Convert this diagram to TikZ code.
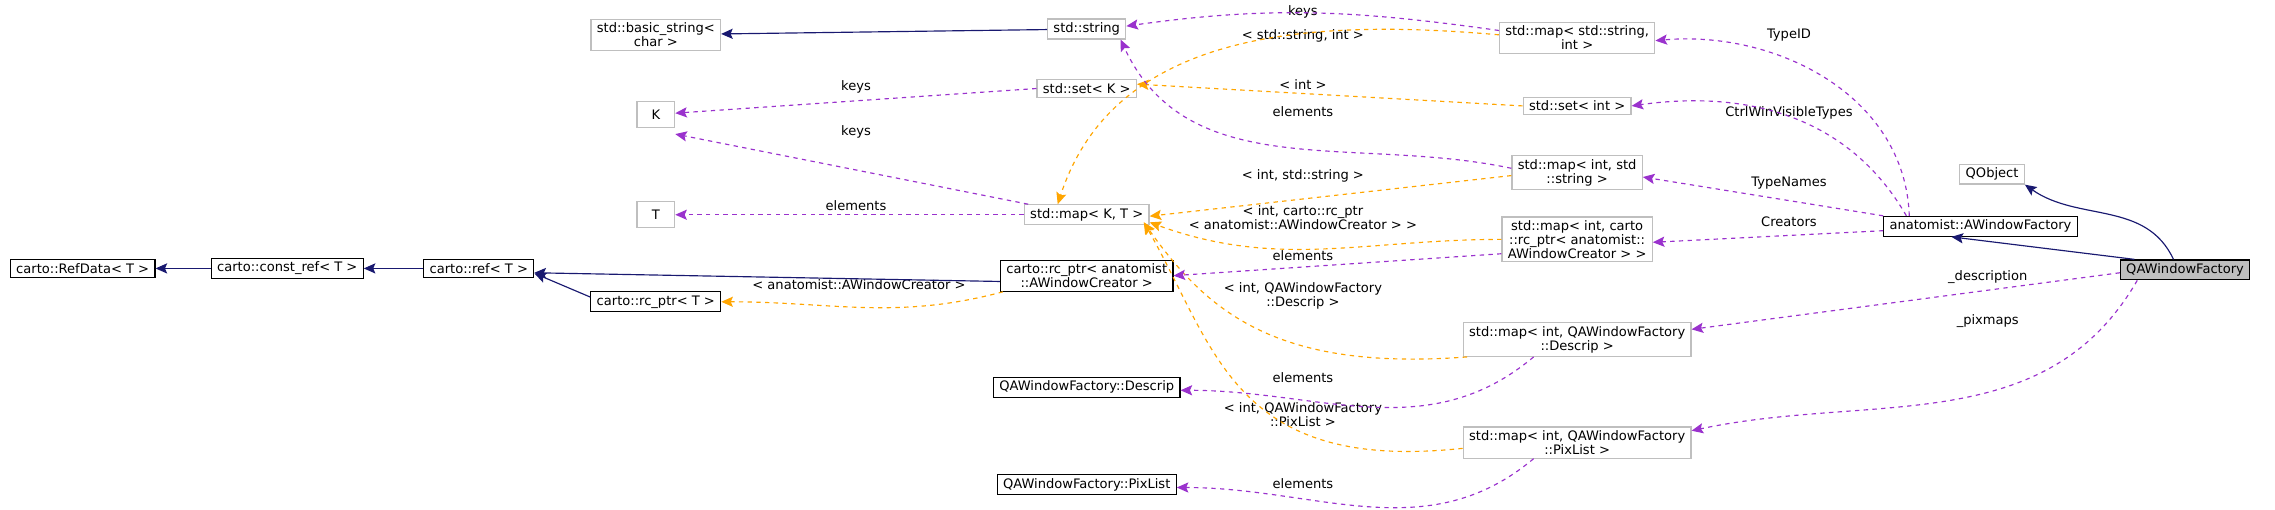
\documentclass[tikz,border=0pt]{standalone}
\usepackage{fontspec}
\setmainfont{DejaVu Sans}
\usetikzlibrary{arrows.meta}
\definecolor{inhblue}{RGB}{25,25,112}
\definecolor{usepurple}{RGB}{154,50,205}
\definecolor{tmplorange}{RGB}{255,165,0}
\definecolor{boxgray}{RGB}{191,191,191}

\tikzset{
  box/.style={draw=black, thick, fill=white, align=center, inner xsep=4pt, inner ysep=2.5pt, font=\fontsize{9}{9.5}\selectfont},
  gbox/.style={box, draw=boxgray},
  inh/.style={inhblue, thick, -{Stealth[length=8pt,width=7pt,inset=1.5pt]}},
  use/.style={usepurple, thick, dashed, -{Stealth[length=8pt,width=7pt,inset=1.5pt]}},
  tmpl/.style={tmplorange, thick, dashed, -{Stealth[length=8pt,width=7pt,inset=1.5pt]}},
  lbl/.style={align=center, font=\fontsize{9}{9.5}\selectfont, inner sep=0pt}
}

\begin{document}
\begin{tikzpicture}[x=1pt,y=-1pt]
  \useasboundingbox (0,0) rectangle (1568,351);

  % Left column: reference classes
  \node[box] (refdata) at (57,185) {carto::RefData< T >};
  \node[box] (constref) at (198,185) {carto::const\_ref< T >};
  \node[box] (ref) at (330,185) {carto::ref< T >};
  \node[box] (rcptr) at (452,208) {carto::rc\_ptr< T >};
  \node[gbox] (basicstr) at (452,24) {std::basic\_string<\\char >};
  \node[gbox, minimum width=26pt, minimum height=18pt] (K) at (452,79) {K};
  \node[gbox, minimum width=26pt, minimum height=18pt] (T) at (452,148) {T};

  % Second column
  \node[gbox] (string) at (749,20) {std::string};
  \node[gbox] (setK) at (749,61) {std::set< K >};
  \node[gbox] (mapKT) at (749,148) {std::map< K, T >};
  \node[box] (rcanat) at (749,190) {carto::rc\_ptr< anatomist\\::AWindowCreator >};
  \node[box] (descrip) at (749,267) {QAWindowFactory::Descrip};
  \node[box] (pixlist) at (749,334) {QAWindowFactory::PixList};

  % Third column: containers
  \node[gbox] (mapstrint) at (1087,26) {std::map< std::string,\\int >};
  \node[gbox] (setint) at (1087,73) {std::set< int >};
  \node[gbox] (mapintstr) at (1087,119) {std::map< int, std\\::string >};
  \node[gbox] (mapintrc) at (1087,165) {std::map< int, carto\\::rc\_ptr< anatomist::\\AWindowCreator > >};
  \node[gbox] (mapdescrip) at (1087,234) {std::map< int, QAWindowFactory\\::Descrip >};
  \node[gbox] (mappix) at (1087,305) {std::map< int, QAWindowFactory\\::PixList >};

  % Right column
  \node[gbox] (qobject) at (1373,120) {QObject};
  \node[box] (awfactory) at (1365,156) {anatomist::AWindowFactory};
  \node[box, fill=boxgray] (qawf) at (1506,186) {QAWindowFactory};

  % Connector labels
  \node[lbl] (lkeys1) at (898,8) {keys};
  \node[lbl] (lstrint) at (898,25) {< std::string, int >};
  \node[lbl] (lint) at (898,58) {< int >};
  \node[lbl] (lelem1) at (898,77) {elements};
  \node[lbl] (lintstr) at (898,121) {< int, std::string >};
  \node[lbl] (lintrc) at (898,150) {< int, carto::rc\_ptr\\< anatomist::AWindowCreator > >};
  \node[lbl] (lelem2) at (898,176) {elements};
  \node[lbl] (lintdes) at (898,204) {< int, QAWindowFactory\\::Descrip >};
  \node[lbl] (lelem3) at (898,260) {elements};
  \node[lbl] (lintpix) at (898,286) {< int, QAWindowFactory\\::PixList >};
  \node[lbl] (lelem4) at (898,333) {elements};
  \node[lbl] (lkeys2) at (590,60) {keys};
  \node[lbl] (lkeys3) at (590,91) {keys};
  \node[lbl] (lelem5) at (590,142) {elements};
  \node[lbl] (lcreator) at (592,196) {< anatomist::AWindowCreator >};
  \node[lbl] (ltypeid) at (1233,24) {TypeID};
  \node[lbl] (lctrl) at (1233,78) {CtrlWinVisibleTypes};
  \node[lbl] (ltypenames) at (1233,126) {TypeNames};
  \node[lbl] (lcreators) at (1233,153) {Creators};
  \node[lbl] (ldescr) at (1370,191) {\_description};
  \node[lbl] (lpix) at (1370,221) {\_pixmaps};

  % Inheritance
  \draw[inh] (constref) -- (refdata);
  \draw[inh] (ref) -- (constref);
  \draw[inh] ([yshift=-4pt]rcptr.north west) -- ([yshift=3pt]ref.south east);
  \draw[inh] ([yshift=-4pt]rcanat.west) -- ([yshift=-3pt]ref.east);
  \draw[inh] (string) -- (basicstr);
  \draw[inh] ([xshift=-8pt]qawf.north) to[out=115,in=-35] (qobject.south east);
  \draw[inh] ([xshift=10pt]qawf.north west) -- ([xshift=-20pt]awfactory.south);

  % Template instances
  \draw[tmpl] ([xshift=2pt]rcanat.south west) to[out=-165,in=0] (rcptr.east);
  \draw[tmpl] (setint.west) -- ([yshift=3pt]setK.east);
  \draw[tmpl] ([yshift=2pt]mapstrint.west) to[out=175,in=72] ([xshift=-20pt]mapKT.north);
  \draw[tmpl] ([yshift=-2pt]mapintstr.west) -- ([yshift=-1pt]mapKT.east);
  \draw[tmpl] (mapintrc.west) to[out=180,in=-20] ([yshift=2pt]mapKT.south east);
  \draw[tmpl] ([xshift=3pt]mapdescrip.south west) .. controls (880,256) and (832,215) .. ([xshift=-4pt,yshift=2pt]mapKT.south east);
  \draw[tmpl] ([yshift=-4pt]mappix.west) .. controls (850,326) and (838,240) .. ([xshift=-4pt,yshift=2pt]mapKT.south east);

  % Usage
  \draw[use] ([yshift=5pt]mapstrint.west) to[out=172,in=8] ([yshift=2pt]string.east);
  \draw[use] (setK.west) -- ([yshift=1pt]K.east);
  \draw[use] ([xshift=3pt]mapKT.north west) -- ([yshift=-4pt]K.south east);
  \draw[use] (mapKT) -- (T);
  \draw[use] ([yshift=3pt]mapintstr.west) to[out=168,in=-65] ([xshift=-4pt]string.south east);
  \draw[use] ([xshift=18pt]awfactory.north west) to[out=92,in=5] ([yshift=-2pt]mapstrint.east);
  \draw[use] ([xshift=16pt]awfactory.north west) to[out=120,in=8] (setint.east);
  \draw[use] (awfactory.north west) -- ([yshift=-3pt]mapintstr.east);
  \draw[use] ([yshift=-3pt]awfactory.west) -- ([yshift=-2pt]mapintrc.east);
  \draw[use] ([yshift=6pt]mapintrc.south west) -- (rcanat.east);
  \draw[use] ([yshift=-2pt]qawf.west) -- ([yshift=-5pt]mapdescrip.north east);
  \draw[use] ([xshift=12pt]qawf.south west) to[out=-120,in=12] ([yshift=-3pt]mappix.north east);
  \draw[use] ([xshift=-30pt]mapdescrip.south) to[out=-140,in=0] ([yshift=-2pt]descrip.east);
  \draw[use] ([xshift=-30pt]mappix.south) to[out=-140,in=0] ([yshift=-2pt]pixlist.east);
\end{tikzpicture}
\end{document}
